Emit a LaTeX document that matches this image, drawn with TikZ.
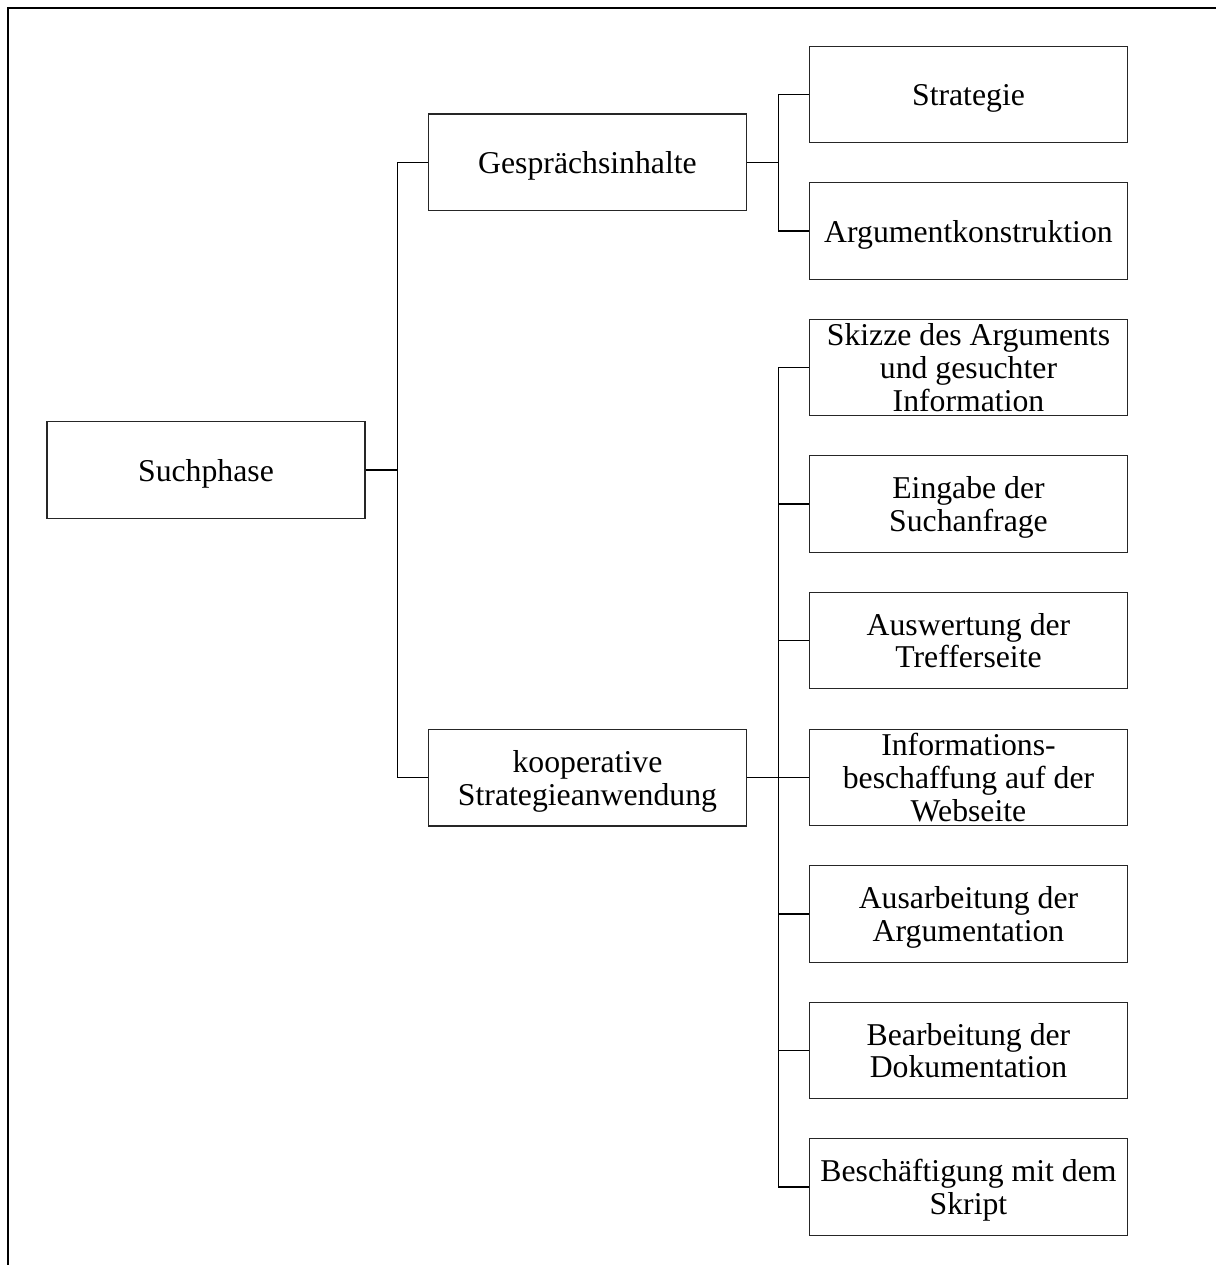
\documentclass[tikz,border=0pt]{standalone}
\usepackage{fontspec}
\setmainfont{Liberation Serif}
\begin{document}
\begin{tikzpicture}[x=0.75pt,y=-0.75pt,
  box/.style={draw=black!85, line width=1pt, minimum width=238.5pt, minimum height=72.4pt,
    inner sep=0pt, align=center, text depth=0pt, font=\fontsize{23.8pt}{24.6pt}\selectfont},
  conn/.style={draw=black, line width=1pt},
  frame/.style={draw=black, line width=1.5pt}]
\useasboundingbox (0,0) rectangle (1216,1265);
\draw[frame] (8.3,1265) -- (8.3,7.5) -- (1216,7.5);

\node[box] (such) at (206,470) {Suchphase};
\node[box] (gespr) at (587.5,162.3) {Gesprächsinhalte};
\node[box] (koop) at (587.5,777.7) {kooperative\\Strategieanwendung};

\node[box] (strat) at (968.5,94.5) {Strategie};
\node[box] (arg) at (968.5,231) {Argumentkonstruktion};

\node[box] (skizze) at (968.5,367.5) {Skizze des Arguments\\und gesuchter\\Information};
\node[box] (eingabe) at (968.5,504) {Eingabe der\\Suchanfrage};
\node[box] (ausw) at (968.5,640.5) {Auswertung der\\Trefferseite};
\node[box] (info) at (968.5,777.5) {Informations-\\beschaffung auf der\\Webseite};
\node[box] (ausarb) at (968.5,914) {Ausarbeitung der\\Argumentation};
\node[box] (bearb) at (968.5,1050.5) {Bearbeitung der\\Dokumentation};
\node[box] (besch) at (968.5,1187) {Beschäftigung mit dem\\Skript};

\draw[conn] (such.east) -- ++(32,0) |- (gespr.west);
\draw[conn] (such.east) -- ++(32,0) |- (koop.west);

\draw[conn] (gespr.east) -- ++(31,0) |- (strat.west);
\draw[conn] (gespr.east) -- ++(31,0) |- (arg.west);

\foreach \c in {skizze,eingabe,ausw,info,ausarb,bearb,besch}
  \draw[conn] (koop.east) -- ++(31.3,0) |- (\c.west);
\end{tikzpicture}
\end{document}
